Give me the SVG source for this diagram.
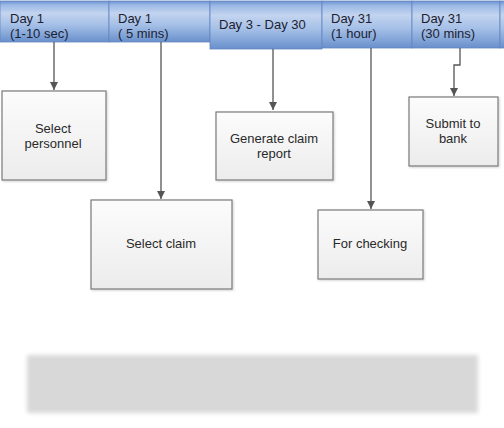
<svg xmlns="http://www.w3.org/2000/svg" width="504" height="428" viewBox="0 0 504 428">
<defs>
<style>
.tab{fill:url(#tabg);stroke:#6186c0;stroke-width:0.8}
.tt{font-family:"Liberation Sans",Arial,sans-serif;font-size:13px;fill:#1c2230}
.box{fill:url(#boxg);stroke:#7a7a7a;stroke-width:1.2;filter:url(#sh)}
.bt{font-family:"Liberation Sans",Arial,sans-serif;font-size:13px;fill:#2a2a2a;text-anchor:middle}
.con{fill:none;stroke:#555;stroke-width:1.3}
</style>
<linearGradient id="tabg" x1="0" y1="0" x2="0" y2="1">
<stop offset="0" stop-color="#6b92d0"/>
<stop offset="0.1" stop-color="#9cb9e5"/>
<stop offset="0.3" stop-color="#c3d4ef"/>
<stop offset="0.6" stop-color="#a3bee6"/>
<stop offset="1" stop-color="#6990cc"/>
</linearGradient>
<linearGradient id="boxg" x1="0" y1="0" x2="0" y2="1">
<stop offset="0" stop-color="#fcfcfc"/>
<stop offset="1" stop-color="#ececec"/>
</linearGradient>
<filter id="sh" x="-10%" y="-10%" width="125%" height="125%">
<feDropShadow dx="1" dy="1" stdDeviation="1" flood-color="#000" flood-opacity="0.18"/>
</filter>
<filter id="blur" x="-5%" y="-20%" width="110%" height="140%">
<feGaussianBlur stdDeviation="2"/>
</filter>
<marker id="arr" markerWidth="9" markerHeight="9" refX="8" refY="4" orient="auto" markerUnits="userSpaceOnUse">
<path d="M0,0 L8,4 L0,8 Z" fill="#555"/>
</marker>
</defs>
<rect width="504" height="428" fill="#ffffff"/>

<g id="header">
<g id="tab1"><rect class="tab" x="0" y="1" width="109" height="41"/>
<text class="tt" x="10" y="23">Day 1</text><text class="tt" x="10" y="38">(1-10 sec)</text></g>
<g id="tab2"><rect class="tab" x="109" y="1" width="101" height="41"/>
<text class="tt" x="118" y="23">Day 1</text><text class="tt" x="118" y="38">( 5 mins)</text></g>
<g id="tab3"><rect class="tab" x="210" y="1" width="112" height="48"/>
<text class="tt" x="219" y="29">Day 3 - Day 30</text></g>
<g id="tab4"><rect class="tab" x="322" y="1" width="90" height="47"/>
<text class="tt" x="331" y="23">Day 31</text><text class="tt" x="331" y="38">(1 hour)</text></g>
<g id="tab5"><rect class="tab" x="412" y="1" width="88" height="47"/>
<text class="tt" x="421" y="23">Day 31</text><text class="tt" x="421" y="38">(30 mins)</text></g>
<g id="tab6"><rect class="tab" x="500" y="1" width="8" height="47"/></g>
</g>

<g id="connectors">
<path class="con" d="M54,42 V90" marker-end="url(#arr)"/>
<path class="con" d="M161,42 V199" marker-end="url(#arr)"/>
<path class="con" d="M273,49 V110" marker-end="url(#arr)"/>
<path class="con" d="M371,48 V209" marker-end="url(#arr)"/>
<path class="con" d="M460,48 V65 H454 V96" marker-end="url(#arr)"/>
</g>

<g id="n1"><rect class="box" x="2" y="91" width="104" height="89"/>
<text class="bt" x="53" y="133">Select</text><text class="bt" x="53" y="148">personnel</text></g>
<g id="n2"><rect class="box" x="91" y="200" width="141" height="89"/>
<text class="bt" x="161" y="248">Select claim</text></g>
<g id="n3"><rect class="box" x="216" y="112" width="117" height="68"/>
<text class="bt" x="274" y="143">Generate claim</text><text class="bt" x="274" y="158">report</text></g>
<g id="n4"><rect class="box" x="318" y="210" width="105" height="69"/>
<text class="bt" x="370" y="248">For checking</text></g>
<g id="n5"><rect class="box" x="409" y="97" width="89" height="69"/>
<text class="bt" x="453" y="128">Submit to</text><text class="bt" x="453" y="143">bank</text></g>

<rect x="27" y="355" width="451" height="58" fill="#d8d8d8" filter="url(#blur)"/>
</svg>
